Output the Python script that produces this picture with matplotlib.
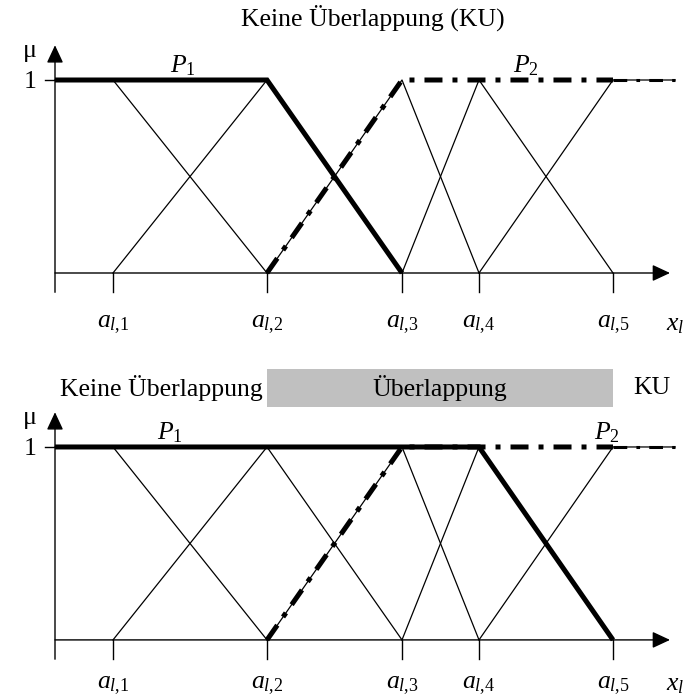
import numpy as np
import matplotlib
matplotlib.use("Agg")
import matplotlib.pyplot as plt
from matplotlib.patches import Rectangle

plt.rcParams["font.family"] = ["Liberation Serif", "DejaVu Serif"]
plt.rcParams["mathtext.fontset"] = "custom"
plt.rcParams["mathtext.rm"] = "Liberation Serif"
plt.rcParams["mathtext.it"] = "Liberation Serif:italic"

# support points of the five triangular membership functions
a_pos = [0.58, 2.12, 3.47, 4.24, 5.58]
x_end = 6.2
tick_labels = [r"$a_{l{,}%d}$" % (i + 1) for i in range(5)]

# partitions: index range of membership functions merged into P1 / P2
p1_ranges = [(0, 1), (0, 3)]
p2_range = (2, 4)

FS = 18.5


def mf_corners(i):
    pts = [0.0] + a_pos + [x_end]
    k = i + 1
    xs = [pts[k - 1], pts[k], pts[k + 1]]
    ys = [0, 1, 0]
    if i == 0:
        ys[0] = 1
    if i == len(a_pos) - 1:
        ys[2] = 1
    return xs, ys


def merged(lo, hi):
    xs_lo, ys_lo = mf_corners(lo)
    xs_hi, ys_hi = mf_corners(hi)
    xs = [xs_lo[0], xs_lo[1], xs_hi[1], xs_hi[2]]
    ys = [ys_lo[0], 1, 1, ys_hi[2]]
    return xs, ys


fig = plt.figure(figsize=(6.84, 6.97), dpi=100)
ax_top = fig.add_axes([0, 0.5, 1, 0.5])
ax_top.set_ylim(-0.3912, 1.4145)
ax_bot = fig.add_axes([0, 0, 1, 0.5])
ax_bot.set_ylim(-0.2959, 1.5104)

arrow = dict(arrowstyle="-|>,head_length=0.9,head_width=0.42",
             mutation_scale=12, lw=1.0, color="k", shrinkA=0, shrinkB=0)

for ax, rng, ylab in [(ax_top, p1_ranges[0], -0.27),
                      (ax_bot, p1_ranges[1], -0.235)]:
    ax.set_xlim(-0.55, 6.29)
    ax.axis("off")

    # axes with arrow heads and ticks
    ax.annotate("", xy=(6.15, 0), xytext=(0, 0), arrowprops=arrow)
    ax.annotate("", xy=(0, 1.18), xytext=(0, -0.1), arrowprops=arrow)
    for x in a_pos:
        ax.plot([x, x], [0, -0.1], color="k", lw=1.0)
    ax.plot([-0.1, 0], [1, 1], color="k", lw=1.0)

    # thin membership functions
    for i in range(len(a_pos)):
        xs, ys = mf_corners(i)
        ax.plot(xs, ys, color="k", lw=0.9, zorder=2)

    # P2, dash-dot, thinner beyond the last support point
    xs, ys = merged(*p2_range)
    ax.plot(xs[:3], ys[:3], color="k", lw=3.6, dashes=(3.6, 2, 1, 2),
            dash_capstyle="butt", zorder=3)
    ax.plot(xs[2:], ys[2:], color="k", lw=2.2, dashes=(4.5, 3, 1.2, 3),
            dash_capstyle="butt", zorder=3)

    # P1, thick solid
    xs, ys = merged(*rng)
    ax.plot(xs, ys, color="k", lw=3.6, solid_capstyle="butt",
            solid_joinstyle="miter", zorder=4)

    for x, lab in zip(a_pos, tick_labels):
        ax.text(x, ylab, lab, fontsize=FS, ha="center", va="center")
    ax.text(6.2, ylab, r"$x_l$", fontsize=FS, ha="center", va="center")
    ax.text(-0.25, 1.15, "μ", fontsize=FS, ha="center", va="center")
    ax.text(-0.25, 0.99, "1", fontsize=FS, ha="center", va="center")

# headers and partition names
ax_top.text(3.18, 1.32, "Keine Überlappung (KU)", fontsize=FS,
            ha="center", va="center")
ax_top.text(1.28, 1.075, r"$P_1$", fontsize=FS, ha="center", va="center")
ax_top.text(4.71, 1.075, r"$P_2$", fontsize=FS, ha="center", va="center")

ax_bot.add_patch(Rectangle((a_pos[1], 1.207), a_pos[4] - a_pos[1], 0.197,
                           facecolor="#c0c0c0", edgecolor="none"))
ax_bot.text((a_pos[1] + a_pos[4]) / 2, 1.306, "Überlappung", fontsize=FS,
            ha="center", va="center")
ax_bot.text(1.06, 1.306, "Keine Überlappung", fontsize=FS,
            ha="center", va="center")
ax_bot.text(5.97, 1.306, "KU", fontsize=FS, ha="center", va="center")
ax_bot.text(1.15, 1.075, r"$P_1$", fontsize=FS, ha="center", va="center")
ax_bot.text(5.52, 1.075, r"$P_2$", fontsize=FS, ha="center", va="center")

fig.savefig("out.png", dpi=100)
